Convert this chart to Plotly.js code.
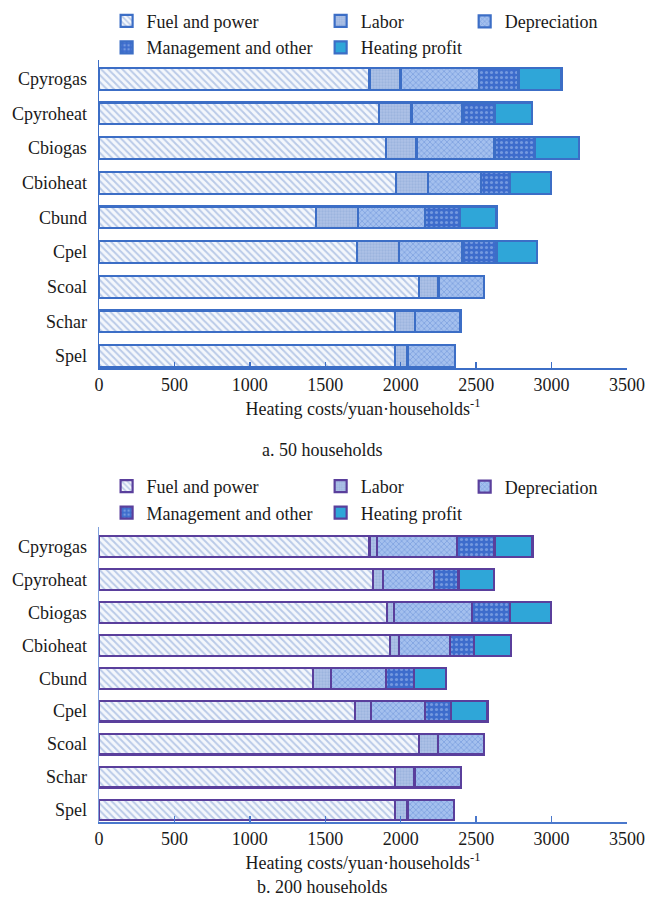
<!DOCTYPE html>
<html>
<head>
<meta charset="utf-8">
<script src="https://cdn.plot.ly/plotly-3.0.1.min.js"></script>
<style>
html,body{margin:0;padding:0;background:#fff;}
#chart{width:646px;height:904px;}
</style>
</head>
<body>
<div id="chart"></div>
<script>
// Categories, top to bottom as drawn
var categories = ['Cpyrogas','Cpyroheat','Cbiogas','Cbioheat','Cbund','Cpel','Scoal','Schar','Spel'];
var seriesNames = ['Fuel and power','Labor','Depreciation','Management and other','Heating profit'];

// a. 50 households (yuan per household)
var fuel50   = [1793, 1856, 1900, 1971, 1441, 1710, 2122, 1963, 1963];
var labor50  = [205, 216, 205, 211, 277, 280, 129, 131, 82];
var dep50    = [519, 338, 516, 352, 445, 420, 302, 302, 316];
var mgmt50   = [264, 211, 267, 189, 231, 225, null, null, null];
var profit50 = [285, 248, 296, 275, 241, 267, null, null, null];

// b. 200 households (yuan per household)
var fuel200   = [1793, 1817, 1908, 1927, 1419, 1696, 2122, 1963, 1963];
var labor200  = [52, 63, 46, 63, 118, 107, 123, 129, 82];
var dep200    = [529, 338, 517, 335, 363, 357, 308, 310, 308];
var mgmt200   = [247, 165, 252, 159, 186, 173, null, null, null];
var profit200 = [253, 233, 275, 247, 212, 242, null, null, null];

var xTickVals = [0, 500, 1000, 1500, 2000, 2500, 3000, 3500];
var xTitle = 'Heating costs/yuan\u00b7households<sup>-1</sup>';
var captions = ['a. 50 households', 'b. 200 households'];

var W = 646, H = 904;
var FONT = 'Liberation Serif, Times New Roman, serif';

var patterns = [
  {shape: '\\', bgcolor: '#f4f7fc', fgcolor: '#7f9dd3', size: 5, solidity: 0.4},
  {shape: '.', bgcolor: '#aec2e6', fgcolor: '#8aa5d6', size: 3, solidity: 0.45},
  {shape: 'x', bgcolor: '#a4c0ee', fgcolor: '#5f8ad6', size: 4, solidity: 0.4},
  {shape: '.', bgcolor: '#3d6ccc', fgcolor: '#a9c5f2', size: 5, solidity: 0.3},
  null
];
var solid = ['#ffffff', '#aec2e6', '#a4c0ee', '#3d6ccc', '#2fa6d8'];

var dataTop = [fuel50, labor50, dep50, mgmt50, profit50];
var dataBot = [fuel200, labor200, dep200, mgmt200, profit200];
var lineColors = ['#3c6ec6', '#5a3f9c'];

// legend columns: 1 = Fuel, Management ; 2 = Labor, Profit ; 3 = Depreciation
var legCol = [0, 1, 2, 0, 1];

var traces = [];
[dataTop, dataBot].forEach(function (set, p) {
  set.forEach(function (vals, i) {
    var m = {color: solid[i], line: {color: lineColors[p], width: 2.2}};
    if (patterns[i]) {
      m.pattern = Object.assign({fillmode: 'overlay'}, patterns[i]);
      m.color = patterns[i].bgcolor;
    }
    var legNum = p * 3 + legCol[i] + 1;
    traces.push({
      type: 'bar', orientation: 'h',
      name: seriesNames[i],
      x: vals, y: categories,
      xaxis: p === 0 ? 'x' : 'x2',
      yaxis: p === 0 ? 'y' : 'y2',
      marker: m,
      legend: legNum === 1 ? 'legend' : 'legend' + legNum,
      showlegend: true,
      hoverinfo: 'x+y+name'
    });
  });
});

var L = 99.4, R = 627.3;
function cy(px) { return 1 - px / H; }
function cx(px) { return (px - L) / (R - L); }

function xaxisDef(anchor, col) {
  return {
    anchor: anchor, range: [0, 3500], tickvals: xTickVals, automargin: false,
    ticks: 'inside', ticklen: 6, tickwidth: 1.5, tickcolor: col,
    showline: true, linecolor: col, linewidth: 1.5,
    showgrid: false, zeroline: false,
    tickfont: {family: FONT, size: 18, color: '#1a1a1a'},
    ticklabelstandoff: 0,
    title: {text: xTitle, font: {family: FONT, size: 18, color: '#1a1a1a'}, standoff: 8}
  };
}
function yaxisDef(anchor, dom, range, col) {
  return {
    anchor: anchor, domain: dom, type: 'category', automargin: false,
    categoryorder: 'array', categoryarray: categories,
    range: range, showline: true, linecolor: col, linewidth: 1.5,
    ticks: '', showgrid: false, zeroline: false,
    tickfont: {family: FONT, size: 18, color: '#1a1a1a'},
    ticklabelstandoff: 7
  };
}

function legendDef(xpx, ypx) {
  return {
    xref: 'paper', yref: 'paper',
    x: cx(xpx), y: cy(ypx), xanchor: 'left', yanchor: 'middle',
    orientation: 'v', bgcolor: 'rgba(0,0,0,0)', borderwidth: 0,
    traceorder: 'normal',
    font: {family: FONT, size: 18, color: '#1a1a1a'},
    itemclick: false, itemdoubleclick: false, tracegroupgap: 0
  };
}

var legX = [107, 321, 465];
var topRows = [21.7, 46.7], botRows = [487, 512];

var layout = {
  width: W, height: H,
  margin: {l: L, r: W - R, t: 0, b: 0, autoexpand: false},
  paper_bgcolor: '#ffffff', plot_bgcolor: '#ffffff',
  barmode: 'stack', bargap: 0.37,
  font: {family: FONT, size: 18, color: '#1a1a1a'},
  xaxis: xaxisDef('y', '#3c6ec6'),
  yaxis: yaxisDef('x', [cy(368), cy(60)], [8.346, -0.543], '#3c6ec6'),
  xaxis2: xaxisDef('y2', '#4a78cc'),
  yaxis2: yaxisDef('x2', [cy(822), cy(527)], [8.364, -0.59], '#7fa0dc'),
  legend: legendDef(legX[0], (topRows[0] + topRows[1]) / 2),
  legend2: legendDef(legX[1], (topRows[0] + topRows[1]) / 2),
  legend3: legendDef(legX[2], topRows[0]),
  legend4: legendDef(legX[0], (botRows[0] + botRows[1]) / 2),
  legend5: legendDef(legX[1], (botRows[0] + botRows[1]) / 2),
  legend6: legendDef(legX[2], botRows[0]),
  annotations: [
    {text: captions[0], xref: 'paper', yref: 'paper', x: cx(323), y: cy(450),
     xanchor: 'center', yanchor: 'middle', showarrow: false,
     font: {family: FONT, size: 18, color: '#1a1a1a'}},
    {text: captions[1], xref: 'paper', yref: 'paper', x: cx(323), y: cy(887),
     xanchor: 'center', yanchor: 'middle', showarrow: false,
     font: {family: FONT, size: 18, color: '#1a1a1a'}}
  ]
};

Plotly.newPlot('chart', traces, layout, {displayModeBar: false, staticPlot: true});
</script>
</body>
</html>
